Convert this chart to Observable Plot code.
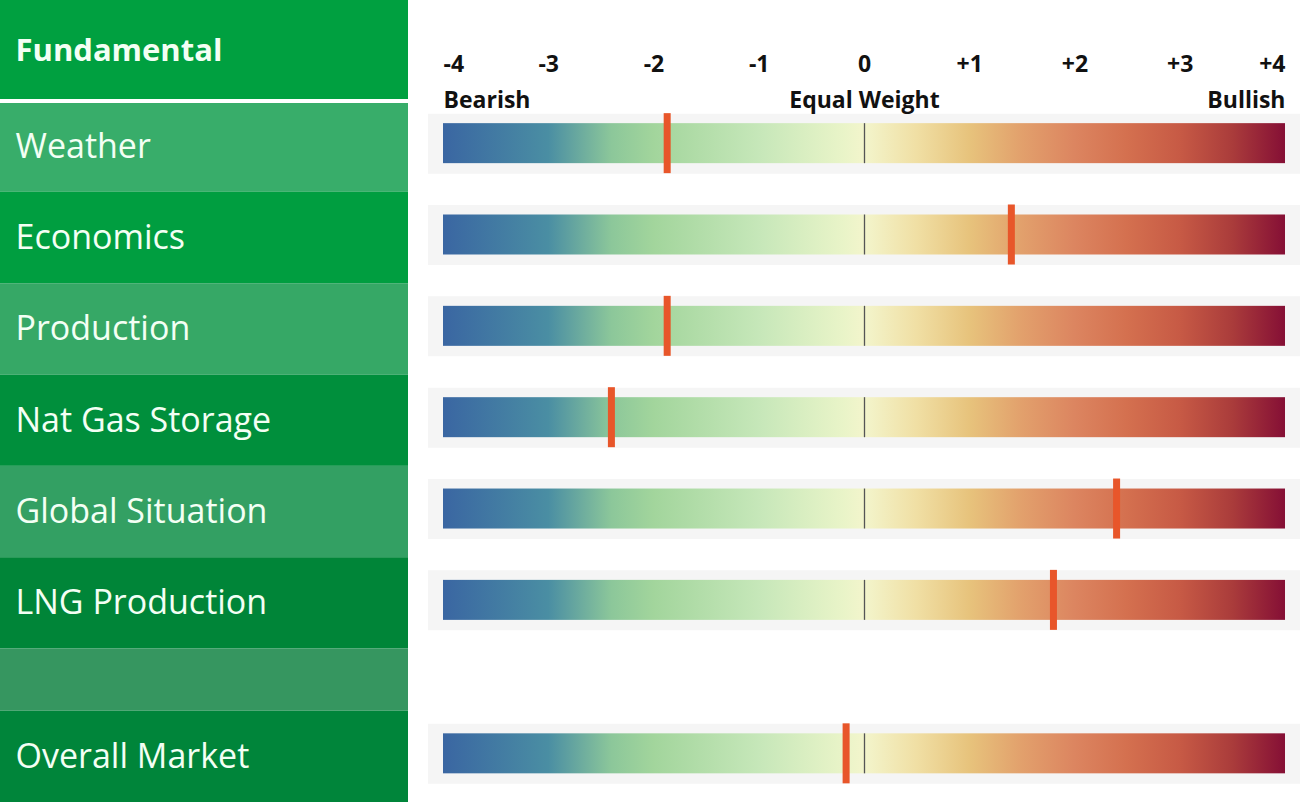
<!DOCTYPE html>
<html><head><meta charset="utf-8">
<script src="https://cdn.jsdelivr.net/npm/d3@7"></script>
<script src="https://cdn.jsdelivr.net/npm/@observablehq/plot@0.6"></script>
<style>
body{margin:0;background:#fff;}
#chart{display:flex;width:1300px;height:802px;overflow:hidden;}
#chart svg{display:block;}
</style></head><body><div id="chart"></div>
<script>
// ---- data ----
const header = "Fundamental";
const categories = ["Weather","Economics","Production","Nat Gas Storage","Global Situation","LNG Production","","Overall Market"];
const scores = [-1.87, 1.4, -1.87, -2.4, 2.4, 1.8, null, -0.17];
const tickValues = [-4,-3,-2,-1,0,1,2,3,4];
const tickLabels = ["-4","-3","-2","-1","0","+1","+2","+3","+4"];
const sentimentValues = [-4, 0, 4];
const sentimentLabels = ["Bearish","Equal Weight","Bullish"];

// ---- styles ----
const rowFills = ["#00a040","#38ad6a","#009e40","#36a866","#008f3c","#33a063","#008538","#369660","#00853a"];
const gradValues = [-4,-3,-2.4,-2,-1,-0.2,0,0.5,1,1.5,2,2.5,3,3.5,4];
const gradColors = ["#3a66a2","#4a8ea3","#8cc79a","#a2d59c","#c6e7b9","#e9f4c8","#f3f5cc","#f0dfa4","#e7c37c","#e2a06c","#dc8560","#d4704f","#c75a45","#aa3c3b","#850f35"];

// ---- layout ----
const weight = {header: 1.1, row: 1, spacer: 0.68};
const rows = [{label: header, type: "header"},
  ...categories.map((c, i) => ({label: c, type: c === "" ? "spacer" : "row", score: scores[i]}))];
let acc = 0;
rows.forEach((r, i) => { r.y1 = acc; acc += weight[r.type]; r.y2 = acc; r.yc = (r.y1 + r.y2) / 2; r.fill = rowFills[i]; });
const total = acc;
const bars = rows.filter(r => r.type === "row");
const H = 802;
const font = "'Open Sans', sans-serif";

const yScale = {domain: [0, total], range: [0, H]};

const left = Plot.plot({
  width: 408, height: H,
  margin: 0,
  style: {fontFamily: font, background: "transparent", overflow: "visible"},
  x: {domain: [0, 1], axis: null},
  y: {...yScale, axis: null},
  marks: [
    Plot.rect(rows, {x1: () => 0, x2: () => 1, y1: "y1", y2: "y2", fill: "fill"}),
    Plot.ruleY([rows[0].y2], {stroke: "white", strokeWidth: 4}),
    Plot.text(rows.filter(r => r.type === "header"), {x: () => 0, y: "yc", dx: 15, text: "label", textAnchor: "start",
      fill: "#f3fff4", fontSize: 31, fontWeight: "bold"}),
    Plot.text(rows.filter(r => r.type !== "header"), {x: () => 0, y: "yc", dx: 15, text: "label", textAnchor: "start",
      fill: "#f3fff4", fontSize: 34})
  ]
});

const defs = () => {
  const d = d3.create("svg:defs");
  const g = d.append("linearGradient").attr("id", "barGrad").attr("x1", "0").attr("x2", "1").attr("y1", "0").attr("y2", "0");
  gradValues.forEach((v, i) => g.append("stop").attr("offset", (v + 4) / 8).attr("stop-color", gradColors[i]));
  return d.node();
};

const ticks = tickValues.map((v, i) => ({v, label: tickLabels[i], i}));
const sents = sentimentValues.map((v, i) => ({v, label: sentimentLabels[i], i}));
const last = a => a.length - 1;
const textStyle = {frameAnchor: "top", lineAnchor: "middle", fontWeight: "bold", fill: "#111"};
const anchored = (data, dy, fontSize) => [
  Plot.text(data.filter(d => d.i === 0), {x: "v", text: "label", dy, fontSize, textAnchor: "start", ...textStyle}),
  Plot.text(data.filter(d => d.i > 0 && d.i < last(data)), {x: "v", text: "label", dy, fontSize, textAnchor: "middle", ...textStyle}),
  Plot.text(data.filter(d => d.i === last(data)), {x: "v", text: "label", dy, fontSize, textAnchor: "end", ...textStyle})
];

const right = Plot.plot({
  width: 892, height: H,
  marginLeft: 35, marginRight: 15, marginTop: 0, marginBottom: 0,
  style: {fontFamily: font, background: "transparent", overflow: "visible"},
  x: {domain: d3.extent(tickValues), axis: null},
  y: {...yScale, axis: null},
  marks: [
    defs,
    Plot.ruleY(bars, {y: "yc", dy: -3, stroke: "#f5f5f5", strokeWidth: 60, insetLeft: -15, insetRight: -15}),
    Plot.rect(bars, {x1: () => tickValues[0], x2: () => tickValues[tickValues.length - 1],
      y1: "yc", y2: "yc", dy: -3, insetTop: -20, insetBottom: -20, fill: "url(#barGrad)"}),
    Plot.ruleX(bars, {x: () => 0, y1: "yc", y2: "yc", dy: -3, insetTop: -20, insetBottom: -20, stroke: "#555", strokeWidth: 1.3}),
    Plot.rect(bars, {x1: "score", x2: "score", y1: "yc", y2: "yc", dy: -3,
      insetTop: -30, insetBottom: -30, insetLeft: -3.5, insetRight: -3.5, fill: "#e8562a"}),
    ...anchored(ticks, 64, 23),
    ...anchored(sents, 100, 23)
  ]
});

document.getElementById("chart").append(left, right);
</script>
</body></html>
